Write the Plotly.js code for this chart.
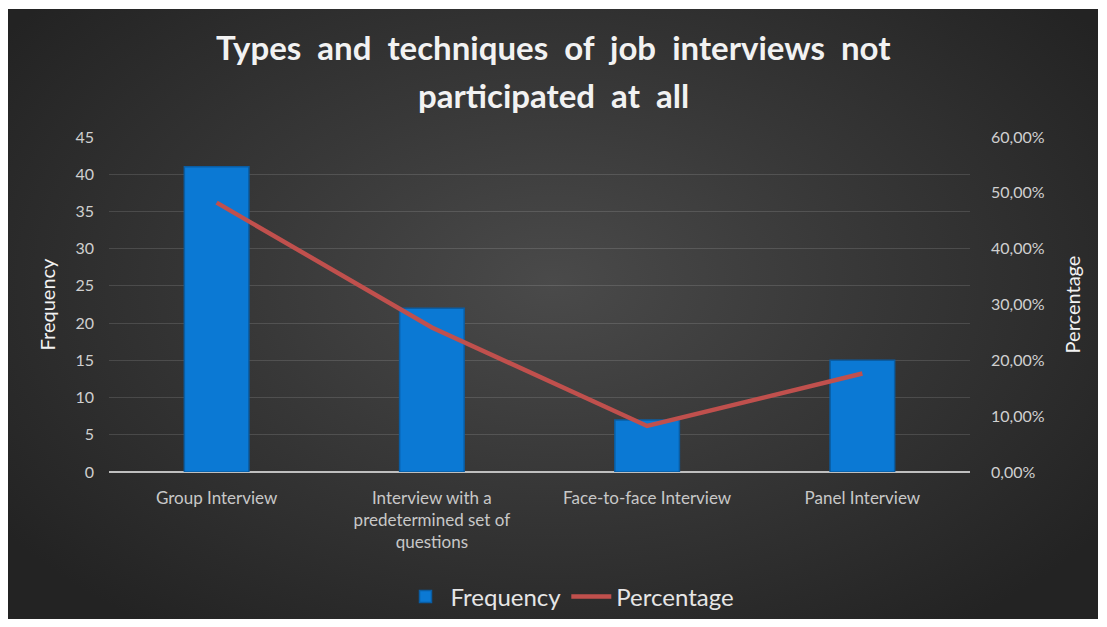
<!DOCTYPE html>
<html>
<head>
<meta charset="utf-8">
<script src="https://cdn.plot.ly/plotly-3.0.1.min.js"></script>
<style>
  html, body { margin: 0; padding: 0; background: #ffffff; width: 1107px; height: 627px; overflow: hidden; }
  #chart { position: absolute; left: 8px; top: 9px; width: 1090px; height: 610px;
    background: radial-gradient(ellipse 62% 70% at 50% 45%, #4a4a4a 0%, #383838 45%, #232323 100%); }
</style>
</head>
<body>
<div id="chart"></div>
<script>
const categories = [
  "Group Interview",
  "Interview with a<br>predetermined set of<br>questions",
  "Face-to-face Interview",
  "Panel Interview"
];
const frequency = [41, 22, 7, 15];
const percentage = [0.4824, 0.2588, 0.0824, 0.1765];
const seriesNames = ["Frequency", "Percentage"];
const titleLines = [
  "Types  and  techniques  of  job  interviews  not",
  "participated  at  all"
];

const FONT = "Lato, 'Open Sans', sans-serif";
const W = 1090, H = 610;
const M = { l: 101, r: 128, t: 128, b: 147 };
const plotH = H - M.t - M.b;
// convert a pixel y (from top of the chart div) to paper fraction
function py(pix) { return 1 + (M.t - pix) / plotH; }

const traces = [
  {
    type: "bar",
    name: seriesNames[0],
    x: categories,
    y: frequency,
    width: 0.3,
    marker: { color: "#0b79d4", line: { color: "#0a5da3", width: 1.5 } },
    yaxis: "y"
  },
  {
    type: "scatter",
    mode: "lines",
    name: seriesNames[1],
    x: categories,
    y: percentage,
    line: { color: "#c0504d", width: 4.5 },
    yaxis: "y2"
  }
];

const titleFont = { family: FONT, size: 33, color: "#f2f2f2", weight: 700 };
const titleX = (553 - 8 - M.l) / (W - M.l - M.r);

const layout = {
  width: W,
  height: H,
  paper_bgcolor: "rgba(0,0,0,0)",
  plot_bgcolor: "rgba(0,0,0,0)",
  separators: ",.",
  margin: M,
  font: { family: FONT, color: "#d9d9d9" },
  annotations: [
    { text: titleLines[0], xref: "paper", yref: "paper", x: titleX, y: py(38),
      xanchor: "center", yanchor: "middle", showarrow: false, font: titleFont },
    { text: titleLines[1], xref: "paper", yref: "paper", x: titleX, y: py(86),
      xanchor: "center", yanchor: "middle", showarrow: false, font: titleFont }
  ],
  showlegend: true,
  legend: {
    orientation: "h",
    x: 562 / W,
    xref: "container",
    xanchor: "center",
    y: 22 / H,
    yref: "container",
    yanchor: "middle",
    font: { family: FONT, size: 24, color: "#e6e6e6" },
    bgcolor: "rgba(0,0,0,0)",
    itemwidth: 40
  },
  xaxis: {
    type: "category",
    showgrid: false,
    zeroline: false,
    showline: false,
    ticks: "",
    tickfont: { family: FONT, size: 17, color: "#c8c8c8" },
    ticklabelstandoff: 14
  },
  yaxis: {
    range: [0, 45],
    dtick: 5,
    showgrid: true,
    gridcolor: "rgba(255,255,255,0.13)",
    gridwidth: 1,
    zeroline: true,
    zerolinecolor: "#bfbfbf",
    zerolinewidth: 1.5,
    showline: false,
    ticks: "",
    tickfont: { family: FONT, size: 16, color: "#d0d0d0" },
    ticklabelstandoff: 14,
    title: { text: "Frequency", font: { family: FONT, size: 20, color: "#f2f2f2" }, standoff: 14 }
  },
  yaxis2: {
    overlaying: "y",
    side: "right",
    range: [0, 0.6],
    dtick: 0.1,
    tickformat: ".2%",
    showgrid: false,
    zeroline: false,
    showline: false,
    ticks: "",
    tickfont: { family: FONT, size: 16, color: "#d0d0d0" },
    ticklabelstandoff: 20,
    title: { text: "Percentage", font: { family: FONT, size: 20, color: "#f2f2f2" }, standoff: 22 }
  }
};

Plotly.newPlot("chart", traces, layout, { displayModeBar: false, staticPlot: true });
</script>
</body>
</html>
